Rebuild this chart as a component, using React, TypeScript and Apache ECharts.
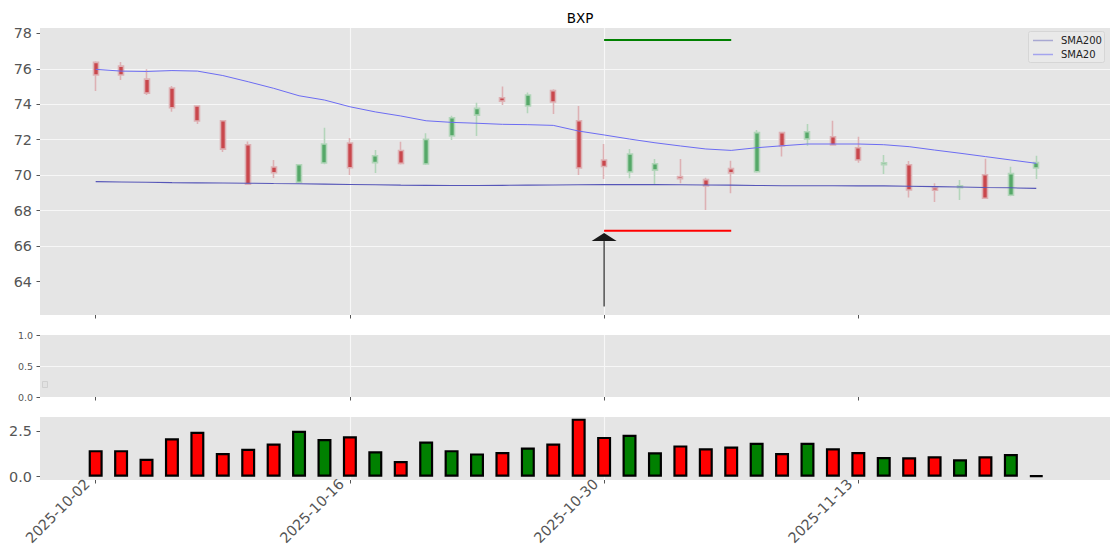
import React, { useEffect, useRef } from "react";
import * as echarts from "echarts";

const FONT = "DejaVu Sans";

const dates = [
  "2025-10-02", "2025-10-03", "2025-10-06", "2025-10-07", "2025-10-08", "2025-10-09", "2025-10-10",
  "2025-10-13", "2025-10-14", "2025-10-15", "2025-10-16", "2025-10-17", "2025-10-20", "2025-10-21",
  "2025-10-22", "2025-10-23", "2025-10-24", "2025-10-27", "2025-10-28", "2025-10-29", "2025-10-30",
  "2025-10-31", "2025-11-03", "2025-11-04", "2025-11-05", "2025-11-06", "2025-11-07", "2025-11-10",
  "2025-11-11", "2025-11-12", "2025-11-13", "2025-11-14", "2025-11-17", "2025-11-18", "2025-11-19",
  "2025-11-20", "2025-11-21", "2025-11-24",
];

const opens = [
  76.36, 76.15, 75.42, 74.92, 73.9, 73.07, 71.72, 70.46, 69.6, 70.69, 71.82, 70.71, 71.39,
  70.63, 72.21, 73.39, 74.37, 73.9, 74.77, 73.07, 70.86, 70.18, 70.29, 69.92, 69.75, 70.37,
  70.2, 72.4, 72.04, 72.17, 71.55, 70.6, 70.59, 69.3, 69.3, 70.03, 68.87, 70.41,
];
const closes = [
  75.65, 75.65, 74.63, 73.8, 73.06, 71.47, 69.5, 70.14, 70.59, 71.76, 70.42, 71.1, 70.67,
  72.02, 73.24, 73.77, 74.18, 74.52, 74.13, 70.41, 70.49, 71.2, 70.65, 69.8, 69.4, 70.13,
  72.4, 71.65, 72.45, 71.7, 70.86, 70.7, 69.17, 69.15, 69.41, 68.7, 70.09, 70.71,
];
const highs = [
  76.42, 76.38, 75.97, 75.03, 73.95, 73.1, 71.9, 70.86, 70.63, 72.68, 72.1, 71.42, 71.89,
  72.36, 73.36, 74.09, 75.0, 74.67, 74.84, 73.9, 71.76, 71.48, 70.92, 70.92, 69.86, 70.82,
  72.55, 72.4, 72.89, 73.07, 72.17, 71.14, 70.8, 69.55, 69.73, 70.93, 70.48, 71.1,
];
const lows = [
  74.75, 75.37, 74.52, 73.58, 72.89, 71.31, 69.45, 69.84, 69.55, 70.62, 70.01, 70.13, 70.6,
  70.58, 71.99, 72.21, 73.96, 73.49, 73.45, 70.01, 69.79, 69.83, 69.45, 69.55, 68.04, 68.98,
  70.14, 71.05, 71.66, 71.66, 70.71, 70.07, 68.75, 68.49, 68.6, 68.68, 68.82, 69.79,
];

const sma20 = [
  75.97, 75.87, 75.85, 75.9, 75.87, 75.62, 75.27, 74.9, 74.48, 74.24, 73.86, 73.57, 73.34,
  73.07, 72.98, 72.93, 72.87, 72.85, 72.81, 72.49, 72.27, 72.04, 71.83, 71.65, 71.48, 71.4,
  71.55, 71.66, 71.76, 71.76, 71.76, 71.72, 71.61, 71.42, 71.24, 71.05, 70.86, 70.67,
];
const sma200 = [
  69.64, 69.62, 69.6, 69.58, 69.57, 69.56, 69.55, 69.53, 69.52, 69.5, 69.48, 69.46, 69.44,
  69.43, 69.42, 69.42, 69.43, 69.44, 69.45, 69.46, 69.47, 69.47, 69.47, 69.46, 69.45, 69.44,
  69.42, 69.41, 69.41, 69.41, 69.4, 69.4, 69.38, 69.36, 69.34, 69.31, 69.29, 69.26,
];

const volumes = [
  1.47, 1.47, 0.99, 2.12, 2.48, 1.31, 1.55, 1.84, 2.54, 2.08, 2.24, 1.41, 0.87, 1.94, 1.47,
  1.29, 1.37, 1.61, 1.84, 3.21, 2.2, 2.32, 1.35, 1.73, 1.57, 1.67, 1.88, 1.31, 1.88, 1.57,
  1.37, 1.09, 1.07, 1.13, 0.97, 1.13, 1.25, 0.06,
];

const targetUpper = 77.62;
const targetLower = 66.87;
const targetFrom = 20;
const targetTo = 25;
const arrowIndex = 20;
const arrowTail = 62.6;
const arrowTip = 66.74;

const priceTicks = [64, 66, 68, 70, 72, 74, 76, 78];
const volumeTicks = [0, 2.5];
const middleTicks = [0, 0.5, 1];
const dateTickIndices = [0, 10, 20, 30];

const X_MIN = -2.19;
const X_MAX = 39.9;

export default function App() {
  const ref = useRef<HTMLDivElement>(null);

  useEffect(() => {
    document.body.style.margin = "0";
    if (!ref.current) return;
    const chart = echarts.init(ref.current, undefined, { renderer: "svg" });

    const GRID_BG = "#E5E5E5";
    const GRID_LINE = { color: "#F7F7F7", width: 1.1 };
    const grids = [
      { left: 40, top: 28, width: 1070, height: 287 },
      { left: 40, top: 335, width: 1070, height: 62 },
      { left: 40, top: 417, width: 1070, height: 63 },
    ].map((g) => ({ ...g, show: true, backgroundColor: GRID_BG, borderWidth: 0 }));

    const xAxes = [0, 1, 2].map((gi) => ({
      type: "value",
      gridIndex: gi,
      min: X_MIN,
      max: X_MAX,
      axisLine: { show: false, onZero: false },
      axisTick: {
        show: true,
        customValues: dateTickIndices,
        length: 3.5,
        lineStyle: { color: "#555", width: 1 },
      },
      axisLabel: {
        show: gi === 2,
        customValues: dateTickIndices,
        rotate: 45,
        margin: -7,
        padding: [0, 12, 0, 0],
        fontSize: 14.4,
        color: "#555",
        fontFamily: FONT,
        formatter: (v: number) => dates[Math.round(v)] ?? "",
      },
      splitLine: {
        show: true,
        showMinLine: false,
        showMaxLine: false,
        lineStyle: GRID_LINE,
      },
    }));

    const yAxes = [
      {
        type: "value",
        gridIndex: 0,
        min: 62.12,
        max: 78.3,
        axisLine: { show: false, onZero: false },
        axisTick: { show: true, customValues: priceTicks, length: 3.5, lineStyle: { color: "#555" } },
        axisLabel: {
          customValues: priceTicks,
          margin: 8,
          fontSize: 14.4,
          color: "#555",
          fontFamily: FONT,
          formatter: (v: number) => String(Math.round(v)),
        },
        splitLine: { show: true, showMinLine: false, showMaxLine: false, lineStyle: GRID_LINE },
      },
      {
        type: "value",
        gridIndex: 1,
        min: 0,
        max: 1,
        axisLine: { show: false, onZero: false },
        axisTick: { show: true, customValues: middleTicks, length: 3.5, lineStyle: { color: "#555" } },
        axisLabel: {
          customValues: middleTicks,
          margin: 7,
          fontSize: 9.5,
          color: "#555",
          fontFamily: FONT,
          formatter: (v: number) => v.toFixed(1),
        },
        splitLine: { show: true, showMinLine: false, showMaxLine: false, lineStyle: GRID_LINE },
      },
      {
        type: "value",
        gridIndex: 2,
        min: -0.18,
        max: 3.3,
        axisLine: { show: false, onZero: false },
        axisTick: { show: true, customValues: volumeTicks, length: 3.5, lineStyle: { color: "#555" } },
        axisLabel: {
          customValues: volumeTicks,
          margin: 8,
          fontSize: 14.4,
          color: "#555",
          fontFamily: FONT,
          formatter: (v: number) => v.toFixed(1),
        },
        splitLine: { show: true, showMinLine: false, showMaxLine: false, lineStyle: GRID_LINE },
      },
    ];

    const candleData = dates.map((_, i) => [i, opens[i], closes[i], lows[i], highs[i]]);
    const volumeData = dates.map((_, i) => ({
      value: [i, volumes[i]],
      itemStyle: { color: closes[i] >= opens[i] ? "#008000" : "#FF0000" },
    }));

    const option: any = {
      animation: false,
      textStyle: { fontFamily: FONT },
      title: {
        text: "BXP",
        left: 575,
        top: 6,
        textAlign: "center",
        textStyle: { fontSize: 13.5, fontWeight: "normal", color: "#000", fontFamily: FONT },
      },
      grid: grids,
      xAxis: xAxes,
      yAxis: yAxes,
      series: [
        {
          type: "candlestick",
          name: "price",
          xAxisIndex: 0,
          yAxisIndex: 0,
          barWidth: 5.5,
          data: candleData,
          itemStyle: {
            color: "#55A868",
            color0: "#C9474C",
            borderColor: "#B3D5BA",
            borderColor0: "#DDB1B4",
            borderColorDoji: "#B3D5BA",
            borderWidth: 1.6,
          },
        },
        {
          type: "line",
          name: "SMA200",
          xAxisIndex: 0,
          yAxisIndex: 0,
          data: sma200.map((v, i) => [i, v]),
          symbol: "none",
          lineStyle: { color: "#5656B8", width: 1.1 },
          z: 3,
        },
        {
          type: "line",
          name: "SMA20",
          xAxisIndex: 0,
          yAxisIndex: 0,
          data: sma20.map((v, i) => [i, v]),
          symbol: "none",
          lineStyle: { color: "#6C6CF2", width: 1 },
          z: 3,
        },
        {
          type: "line",
          name: "target",
          xAxisIndex: 0,
          yAxisIndex: 0,
          data: [[targetFrom, targetUpper], [targetTo, targetUpper]],
          symbol: "none",
          lineStyle: { color: "#008000", width: 2 },
          z: 4,
        },
        {
          type: "line",
          name: "stop",
          xAxisIndex: 0,
          yAxisIndex: 0,
          data: [[targetFrom, targetLower], [targetTo, targetLower]],
          symbol: "none",
          lineStyle: { color: "#FF0000", width: 2 },
          z: 4,
        },
        {
          type: "custom",
          name: "arrow",
          xAxisIndex: 0,
          yAxisIndex: 0,
          z: 5,
          clip: false,
          data: [[arrowIndex, arrowTail, arrowTip]],
          renderItem: (params: any, api: any) => {
            const x = api.value(0);
            const tail = api.coord([x, api.value(1)]);
            const tip = api.coord([x, api.value(2)]);
            const headH = 8;
            const headW = 12.5;
            return {
              type: "group",
              children: [
                {
                  type: "line",
                  shape: { x1: tail[0], y1: tail[1], x2: tip[0], y2: tip[1] + headH },
                  style: { stroke: "#000", lineWidth: 1 },
                },
                {
                  type: "polygon",
                  shape: {
                    points: [
                      [tip[0], tip[1]],
                      [tip[0] + headW, tip[1] + headH],
                      [tip[0] - headW, tip[1] + headH],
                    ],
                  },
                  style: { fill: "#1A1A1A" },
                },
              ],
            };
          },
        },
        {
          type: "bar",
          name: "volume",
          xAxisIndex: 2,
          yAxisIndex: 2,
          barWidth: 14,
          data: volumeData,
          itemStyle: { borderColor: "#000", borderWidth: 2.2 },
        },
      ],
      graphic: [
        {
          type: "rect",
          shape: { x: 1028.5, y: 31.5, width: 76, height: 31, r: 2 },
          style: { fill: "#E9E9E9", stroke: "#D6D6D6", lineWidth: 1 },
          z: 10,
        },
        {
          type: "line",
          shape: { x1: 1033, y1: 40.5, x2: 1053, y2: 40.5 },
          style: { stroke: "#A8A8D2", lineWidth: 1.5 },
          z: 11,
        },
        {
          type: "line",
          shape: { x1: 1033, y1: 54.5, x2: 1053, y2: 54.5 },
          style: { stroke: "#A4A4EE", lineWidth: 1.5 },
          z: 11,
        },
        {
          type: "text",
          x: 1061,
          y: 40.5,
          style: {
            text: "SMA200",
            fill: "#222",
            font: `10px "${FONT}"`,
            align: "left",
            verticalAlign: "middle",
            textAlign: "left",
            textVerticalAlign: "middle",
          },
          z: 11,
        },
        {
          type: "text",
          x: 1061,
          y: 54.5,
          style: {
            text: "SMA20",
            fill: "#222",
            font: `10px "${FONT}"`,
            align: "left",
            verticalAlign: "middle",
            textAlign: "left",
            textVerticalAlign: "middle",
          },
          z: 11,
        },
        {
          type: "rect",
          shape: { x: 42.5, y: 381.5, width: 5, height: 6 },
          style: { fill: "#E2E2E2", stroke: "#D0D0D0", lineWidth: 1 },
          z: 10,
        },
      ],
    };

    chart.setOption(option);
    return () => chart.dispose();
  }, []);

  return <div ref={ref} style={{ width: 1120, height: 560 }} />;
}
